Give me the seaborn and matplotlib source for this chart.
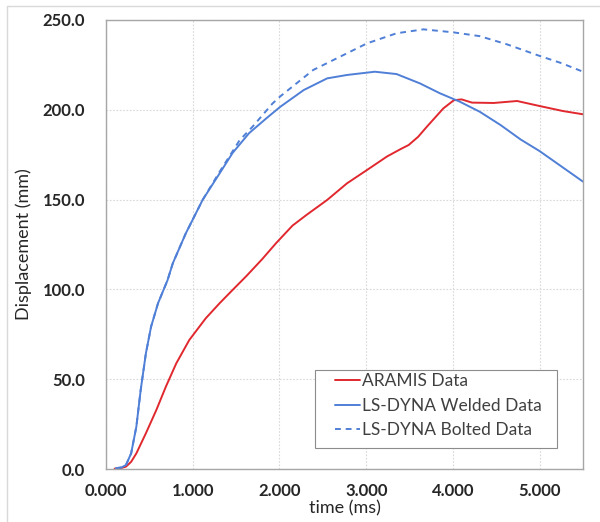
import matplotlib
matplotlib.use("Agg")
import matplotlib.pyplot as plt
import seaborn as sns
from matplotlib.ticker import FormatStrFormatter
from matplotlib.lines import Line2D
from matplotlib.patches import Rectangle

# ---- data ----
aramis_t = [0.10, 0.18, 0.23, 0.29, 0.35, 0.46, 0.58, 0.69, 0.81, 0.96, 1.15, 1.31, 1.46, 1.62,
            1.80, 1.96, 2.15, 2.31, 2.55, 2.78, 3.01, 3.24, 3.40, 3.49, 3.60, 3.70, 3.89, 4.01,
            4.10, 4.22, 4.47, 4.74, 5.00, 5.27, 5.50]
aramis_d = [0.2, 0.6, 1.3, 4.0, 8.7, 19.9, 32.8, 45.8, 58.8, 71.8, 83.9, 92.3, 99.7, 107.5,
            116.8, 125.7, 135.5, 141.4, 149.8, 159.1, 166.5, 174.0, 178.2, 180.4, 185.0, 190.6, 200.8, 205.3,
            205.8, 204.0, 203.8, 204.9, 202.1, 199.3, 197.5]

welded_t = [0.115, 0.18, 0.23, 0.29, 0.35, 0.40, 0.46, 0.52, 0.60, 0.71, 0.77, 0.92, 1.115, 1.31,
            1.46, 1.65, 1.85, 2.01, 2.28, 2.55, 2.78, 3.10, 3.35, 3.62, 3.85, 4.08, 4.31, 4.55,
            4.78, 5.00, 5.25, 5.50]
welded_d = [0.4, 0.9, 2.2, 8.7, 23.6, 44.0, 64.4, 79.3, 92.3, 105.2, 114.5, 131.2, 149.9, 164.6,
            176.0, 187.0, 195.3, 201.7, 211.0, 217.5, 219.4, 221.2, 219.9, 214.7, 209.2, 204.5, 198.9, 191.5,
            183.5, 177.0, 168.5, 160.0]

bolted_t = [0.115, 0.18, 0.23, 0.29, 0.35, 0.40, 0.46, 0.52, 0.60, 0.71, 0.77, 0.92, 1.115, 1.31,
            1.54, 1.69, 1.92, 2.01, 2.39, 2.78, 3.01, 3.35, 3.66, 4.01, 4.31, 4.62, 5.00, 5.25, 5.50]
bolted_d = [0.4, 0.9, 2.2, 8.7, 23.6, 44.0, 64.4, 79.3, 92.3, 105.2, 114.5, 131.2, 149.9, 165.5,
            183.0, 190.6, 203.5, 207.5, 222.2, 231.5, 237.0, 242.6, 244.8, 243.1, 241.0, 236.5, 230.0, 226.0, 221.2]

labels = ["ARAMIS Data", "LS-DYNA Welded Data", "LS-DYNA Bolted Data"]
x_ticks = [0, 1, 2, 3, 4, 5]
y_ticks = [0, 50, 100, 150, 200, 250]

sns.set_style("white")
plt.rcParams["font.family"] = ["Lato", "DejaVu Sans"]

fig = plt.figure(figsize=(6, 5.22), dpi=100)
ax = fig.add_axes([106/600, 1-469/522, (583-106)/600, (469-20)/522])

red = "#E0282E"
blue = "#4F7FD6"
dash = (0, (3, 2.5))

sns.lineplot(x=aramis_t, y=aramis_d, ax=ax, color=red, lw=1.4, sort=False, label=labels[0])
sns.lineplot(x=welded_t, y=welded_d, ax=ax, color=blue, lw=1.4, sort=False, label=labels[1])
sns.lineplot(x=bolted_t, y=bolted_d, ax=ax, color=blue, lw=1.4, sort=False, label=labels[2],
             linestyle=dash)

ax.set_xlim(0, 5.5)
ax.set_ylim(0, 250)
ax.set_xticks(x_ticks)
ax.set_yticks(y_ticks)
ax.xaxis.set_major_formatter(FormatStrFormatter("%.3f"))
ax.yaxis.set_major_formatter(FormatStrFormatter("%.1f"))
ax.grid(True, color="#D9D9D9", linestyle=(0, (1.5, 1.5)), lw=0.8)
for s in ax.spines.values():
    s.set_color("#A6A6A6")
    s.set_linewidth(1.0)
ax.tick_params(axis="x", length=0, labelsize=12, pad=10)
ax.tick_params(axis="y", length=0, labelsize=12, pad=15)
for t in ax.get_xticklabels() + ax.get_yticklabels():
    t.set_fontweight("bold")
ax.set_xlabel("time (ms)", fontsize=13, color="#262626", labelpad=1)
ax.set_ylabel("Displacement (mm)", fontsize=13, color="#262626", labelpad=8)

# legend: frame drawn separately to match the wide side margins of the reference
ax.add_patch(Rectangle(((315-106)/477, (469-448)/449), (557-315)/477, (448-370)/449,
                       transform=ax.transAxes, fill=True, facecolor="white",
                       edgecolor="#8C8C8C", lw=0.8, zorder=4))
handles = [Line2D([], [], color=red, lw=1.4),
           Line2D([], [], color=blue, lw=1.4),
           Line2D([], [], color=blue, lw=1.4, linestyle=dash)]
leg = ax.legend(handles, labels, loc="upper left",
                bbox_to_anchor=((335-106)/477, (469-373)/449),
                frameon=False, fontsize=12.5, handlelength=1.45, handletextpad=0.12,
                borderpad=0.0, labelspacing=0.5, borderaxespad=0)
leg.set_zorder(5)
for t in leg.get_texts():
    t.set_color("#404040")

# outer frame of the figure
fig.add_artist(Line2D([7/600, 7/600], [0, 1-6/522], color="#D9D9D9", lw=1.0))
fig.add_artist(Line2D([7/600, 1], [1-6/522, 1-6/522], color="#D9D9D9", lw=1.0))

fig.savefig("out.png", dpi=100)
